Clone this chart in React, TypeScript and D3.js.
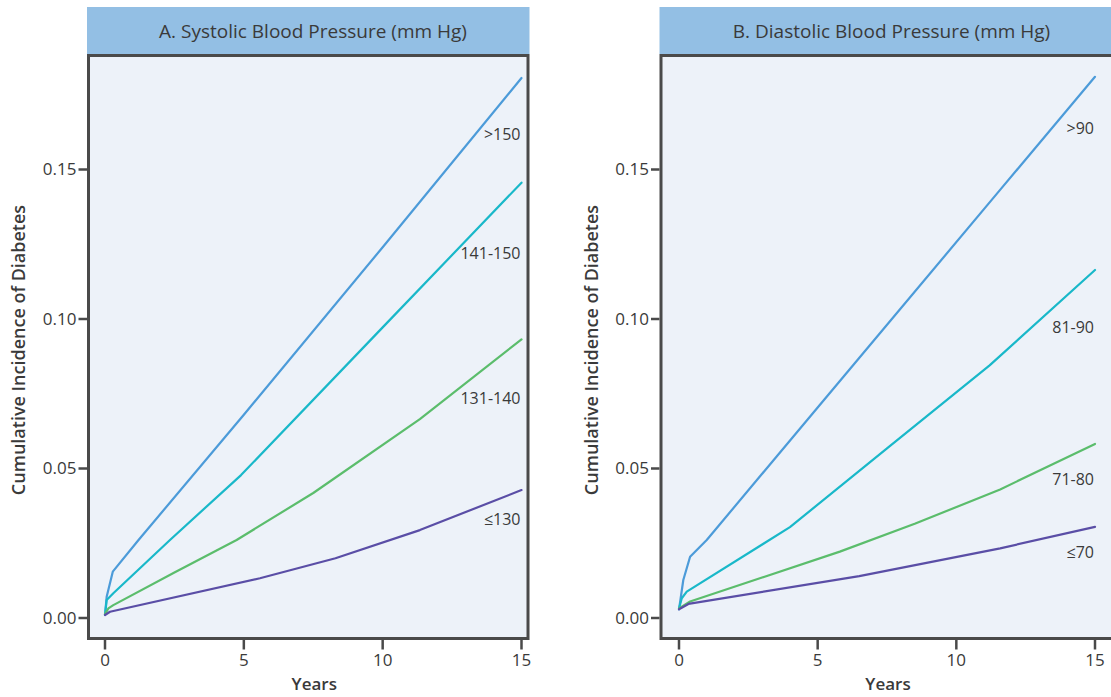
import React from "react";
import * as d3 from "d3";

// ---------- DATA ----------
const xTicks = [0, 5, 10, 15];
const yTicks = [0, 0.05, 0.1, 0.15];

const panelTitles = ["A. Systolic Blood Pressure (mm Hg)", "B. Diastolic Blood Pressure (mm Hg)"];
const sbpLabels = [">150", "141-150", "131-140", "≤130"];
const dbpLabels = [">90", "81-90", "71-80", "≤70"];

// Panel A: systolic
const sbpGt150Years = [0, 0.06, 0.28, 1.2, 5, 10, 15];
const sbpGt150Inc = [0.001, 0.0071, 0.0155, 0.026, 0.068, 0.124, 0.1806];
const sbp141Years = [0, 0.06, 0.3, 2.34, 4.9, 10, 15];
const sbp141Inc = [0.001, 0.006, 0.0083, 0.0261, 0.0478, 0.0972, 0.1456];
const sbp131Years = [0, 0.12, 0.3, 2.5, 4.74, 7.5, 11.34, 15];
const sbp131Inc = [0.0013, 0.0032, 0.0043, 0.0152, 0.0261, 0.0418, 0.0665, 0.0932];
const sbpLe130Years = [0, 0.18, 5.58, 8.3, 11.34, 15];
const sbpLe130Inc = [0.001, 0.0021, 0.0133, 0.02, 0.0294, 0.0428];

// Panel B: diastolic
const dbpGt90Years = [0, 0.06, 0.155, 0.4, 1.0, 5, 11.57, 15];
const dbpGt90Inc = [0.0029, 0.0066, 0.0127, 0.0205, 0.0261, 0.0704, 0.1431, 0.181];
const dbp81Years = [0, 0.1, 0.28, 4.0, 7.5, 11.2, 15];
const dbp81Inc = [0.0032, 0.0066, 0.0088, 0.0304, 0.0567, 0.0845, 0.1164];
const dbp71Years = [0, 0.4, 5.8, 8.5, 11.58, 15];
const dbp71Inc = [0.0032, 0.0055, 0.0222, 0.0315, 0.043, 0.0582];
const dbpLe70Years = [0, 0.34, 6.5, 11.58, 15];
const dbpLe70Inc = [0.0029, 0.0047, 0.014, 0.0233, 0.0305];

// label anchor values (y position of group labels, in incidence units)
const sbpLabelY = [0.1619, 0.122, 0.0736, 0.0331];
const dbpLabelY = [0.1639, 0.0973, 0.0462, 0.0221];

const seriesColors = ["#4c9bd9", "#19b8c9", "#5bbd6c", "#5a4ea6"];

// ---------- LAYOUT ----------
const W = 1111;
const H = 697;
const FONT = "'Open Sans', 'Noto Sans', sans-serif";
const TEXT = "#3a3a3a";
const BORDER = "#4a4a4a";

type Panel = {
  title: string;
  titleX: number;
  boxX0: number;
  boxX1: number;
  xRange: [number, number];
  yLabelX: number;
  groups: string[];
  labelY: number[];
  years: number[][];
  inc: number[][];
};

const panels: Panel[] = [
  {
    title: panelTitles[0],
    titleX: 313,
    boxX0: 88.5,
    boxX1: 528,
    xRange: [105, 521.5],
    yLabelX: 19,
    groups: sbpLabels,
    labelY: sbpLabelY,
    years: [sbpGt150Years, sbp141Years, sbp131Years, sbpLe130Years],
    inc: [sbpGt150Inc, sbp141Inc, sbp131Inc, sbpLe130Inc],
  },
  {
    title: panelTitles[1],
    titleX: 891.5,
    boxX0: 661,
    boxX1: 1124,
    xRange: [679, 1095],
    yLabelX: 592,
    groups: dbpLabels,
    labelY: dbpLabelY,
    years: [dbpGt90Years, dbp81Years, dbp71Years, dbpLe70Years],
    inc: [dbpGt90Inc, dbp81Inc, dbp71Inc, dbpLe70Inc],
  },
];

const boxTop = 55.5;
const boxBottom = 638.5;
const headerTop = 7;
const yScale = d3.scaleLinear().domain([0, 0.15]).range([618, 169.5]);

function PanelView({ p }: { p: Panel }) {
  const x = d3.scaleLinear().domain([0, 15]).range(p.xRange);
  const line = d3
    .line<[number, number]>()
    .x((d) => x(d[0]))
    .y((d) => yScale(d[1]))
    .curve(d3.curveLinear);
  const fmt = d3.format(".2f");
  const cy = (boxTop + boxBottom) / 2;
  return (
    <g>
      {/* header */}
      <rect
        x={p.boxX0 - 1.5}
        y={headerTop}
        width={p.boxX1 - p.boxX0 + 3}
        height={boxTop - headerTop - 1.5}
        fill="#93bfe4"
      />
      <text
        x={p.titleX}
        y={31}
        dy="0.35em"
        textAnchor="middle"
        fontFamily={FONT}
        fontSize={19}
        fontWeight={500}
        fill={TEXT}
      >
        {p.title}
      </text>
      {/* plot box */}
      <rect
        x={p.boxX0}
        y={boxTop}
        width={p.boxX1 - p.boxX0}
        height={boxBottom - boxTop}
        fill="#edf2f9"
        stroke={BORDER}
        strokeWidth={3}
      />
      {/* y ticks */}
      {yTicks.map((t) => (
        <g key={"y" + t}>
          <line
            x1={p.boxX0 - 10}
            x2={p.boxX0 - 1.5}
            y1={yScale(t)}
            y2={yScale(t)}
            stroke={BORDER}
            strokeWidth={2.5}
          />
          <text
            x={p.boxX0 - 12}
            y={yScale(t)}
            dy="0.35em"
            textAnchor="end"
            fontFamily={FONT}
            fontSize={17}
            fill={TEXT}
          >
            {fmt(t)}
          </text>
        </g>
      ))}
      {/* x ticks */}
      {xTicks.map((t) => (
        <g key={"x" + t}>
          <line
            x1={x(t)}
            x2={x(t)}
            y1={boxBottom + 1.5}
            y2={boxBottom + 11}
            stroke={BORDER}
            strokeWidth={2.5}
          />
          <text
            x={x(t)}
            y={660}
            dy="0.35em"
            textAnchor="middle"
            fontFamily={FONT}
            fontSize={17}
            fill={TEXT}
          >
            {t}
          </text>
        </g>
      ))}
      <text
        x={x(7.5) + 1}
        y={684}
        dy="0.35em"
        textAnchor="middle"
        fontFamily={FONT}
        fontSize={17}
        fontWeight={600}
        fill={TEXT}
      >
        Years
      </text>
      <text
        transform={`translate(${p.yLabelX},${cy + 3}) rotate(-90)`}
        dy="0.35em"
        textAnchor="middle"
        fontFamily={FONT}
        fontSize={18}
        fontWeight={600}
        fill={TEXT}
      >
        Cumulative Incidence of Diabetes
      </text>
      {/* series */}
      {p.years.map((ys, i) => {
        const pts: [number, number][] = ys.map((t, j) => [t, p.inc[i][j]]);
        return (
          <path
            key={"s" + i}
            d={line(pts) || ""}
            fill="none"
            stroke={seriesColors[i]}
            strokeWidth={2.2}
            strokeLinejoin="round"
            strokeLinecap="round"
          />
        );
      })}
      {p.groups.map((g, i) => (
        <text
          key={"l" + i}
          x={x(15) - 1}
          y={yScale(p.labelY[i])}
          dy="0.35em"
          textAnchor="end"
          fontFamily={FONT}
          fontSize={16}
          fill={TEXT}
        >
          {g}
        </text>
      ))}
    </g>
  );
}

export default function App() {
  return (
    <svg
      width={W}
      height={H}
      style={{ position: "absolute", left: 0, top: 0, background: "#ffffff" }}
    >
      <rect x={0} y={0} width={W} height={H} fill="#ffffff" />
      {panels.map((p, i) => (
        <PanelView key={i} p={p} />
      ))}
    </svg>
  );
}
